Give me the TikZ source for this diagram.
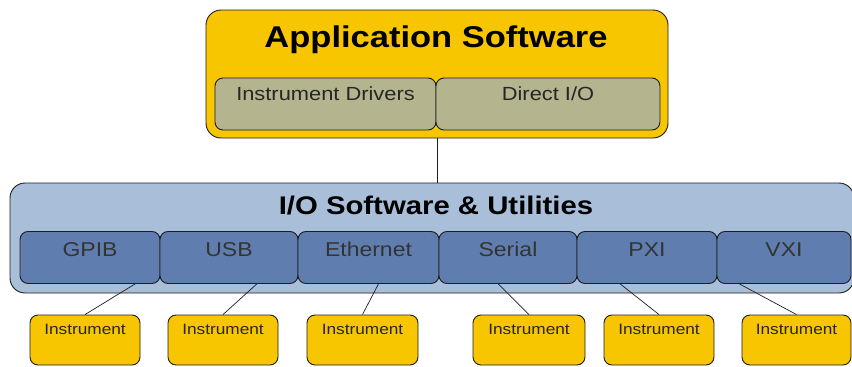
\documentclass[tikz,border=0pt]{standalone}
\usepackage{fontspec}
\setmainfont{Liberation Sans}[FakeStretch=1.15]
\usetikzlibrary{calc}
\definecolor{appyellow}{HTML}{F7C600}
\definecolor{drvolive}{HTML}{B4B48F}
\definecolor{iolight}{HTML}{A9BED8}
\definecolor{iodark}{HTML}{5F7EAF}
\definecolor{edge}{HTML}{1E1E1E}
\tikzset{
  outerbox/.style={draw=edge, line width=0.9pt, rounded corners=15pt, inner sep=0pt},
  subbox/.style={draw=edge, line width=0.9pt, rounded corners=8pt, inner sep=0pt, minimum height=52pt},
  instbox/.style={draw=edge, line width=0.9pt, fill=appyellow, rounded corners=8pt, inner sep=0pt, minimum height=50pt},
  title/.style={anchor=base, inner sep=0pt, font=\bfseries},
  lbl/.style={anchor=base, inner sep=0pt, text=black!85},
  wire/.style={draw=edge, line width=0.7pt}
}
\begin{document}
\begin{tikzpicture}[x=1pt,y=-1pt]
\useasboundingbox (0,0) rectangle (852,367);
% application software
\node[outerbox, fill=appyellow, minimum width=462pt, minimum height=128pt] (app) at (437,74) {};
\node[title, font=\bfseries\fontsize{30}{33}\selectfont] (apptitle) at (436,47) {Application Software};
\node[subbox, fill=drvolive, minimum width=221pt] (drv) at (325.5,104) {};
\node[subbox, fill=drvolive, minimum width=224pt] (dio) at (548,104) {};
\node[lbl, font=\fontsize{19}{21}\selectfont] (drvt) at (325.5,100.5) {Instrument Drivers};
\node[lbl, font=\fontsize{19}{21}\selectfont] (diot) at (548,100.5) {Direct I/O};
% I/O software
\node[outerbox, fill=iolight, minimum width=844pt, minimum height=110pt] (io) at (432,238) {};
\node[title, font=\bfseries\fontsize{25.5}{28}\selectfont] (iotitle) at (436,214) {I/O Software \& Utilities};
\node[subbox, fill=iodark, minimum width=140pt] (gpib) at (90,257.5) {};
\node[subbox, fill=iodark, minimum width=138pt] (usb) at (229,257.5) {};
\node[subbox, fill=iodark, minimum width=141pt] (eth) at (368.5,257.5) {};
\node[subbox, fill=iodark, minimum width=138pt] (ser) at (508,257.5) {};
\node[subbox, fill=iodark, minimum width=140pt] (pxi) at (647,257.5) {};
\node[subbox, fill=iodark, minimum width=134pt] (vxi) at (784,257.5) {};
\foreach \n/\t in {gpib/GPIB, usb/USB, eth/Ethernet, ser/Serial, pxi/PXI, vxi/VXI}{
  \node[lbl, font=\fontsize{20}{22}\selectfont, text=black!80] (\n t) at ($(\n.center)+(0,-1.5)$) {\t};
}
% instruments
\node[instbox, minimum width=110pt] (i1) at (85,340) {};
\node[instbox, minimum width=110pt] (i2) at (223,340) {};
\node[instbox, minimum width=111pt] (i3) at (362.5,340) {};
\node[instbox, minimum width=112pt] (i4) at (529,340) {};
\node[instbox, minimum width=110pt] (i5) at (659,340) {};
\node[instbox, minimum width=109pt] (i6) at (796.5,340) {};
\foreach \n in {i1,i2,i3,i4,i5,i6}{
  \node[lbl, font=\fontsize{15}{17}\selectfont] (\n t) at ($(\n.center)+(0,-6)$) {Instrument};
}
% connectors
\draw[wire] (app.south) -- (app.south |- io.north);
\draw[wire] ($(gpib.south west)!0.82!(gpib.south east)$) -- (i1.north);
\draw[wire] ($(usb.south west)!0.70!(usb.south east)$) -- (i2.north);
\draw[wire] ($(eth.south west)!0.57!(eth.south east)$) -- (i3.north);
\draw[wire] ($(ser.south west)!0.43!(ser.south east)$) -- (i4.north);
\draw[wire] ($(pxi.south west)!0.31!(pxi.south east)$) -- (i5.north);
\draw[wire] ($(vxi.south west)!0.17!(vxi.south east)$) -- (i6.north);
\end{tikzpicture}
\end{document}
